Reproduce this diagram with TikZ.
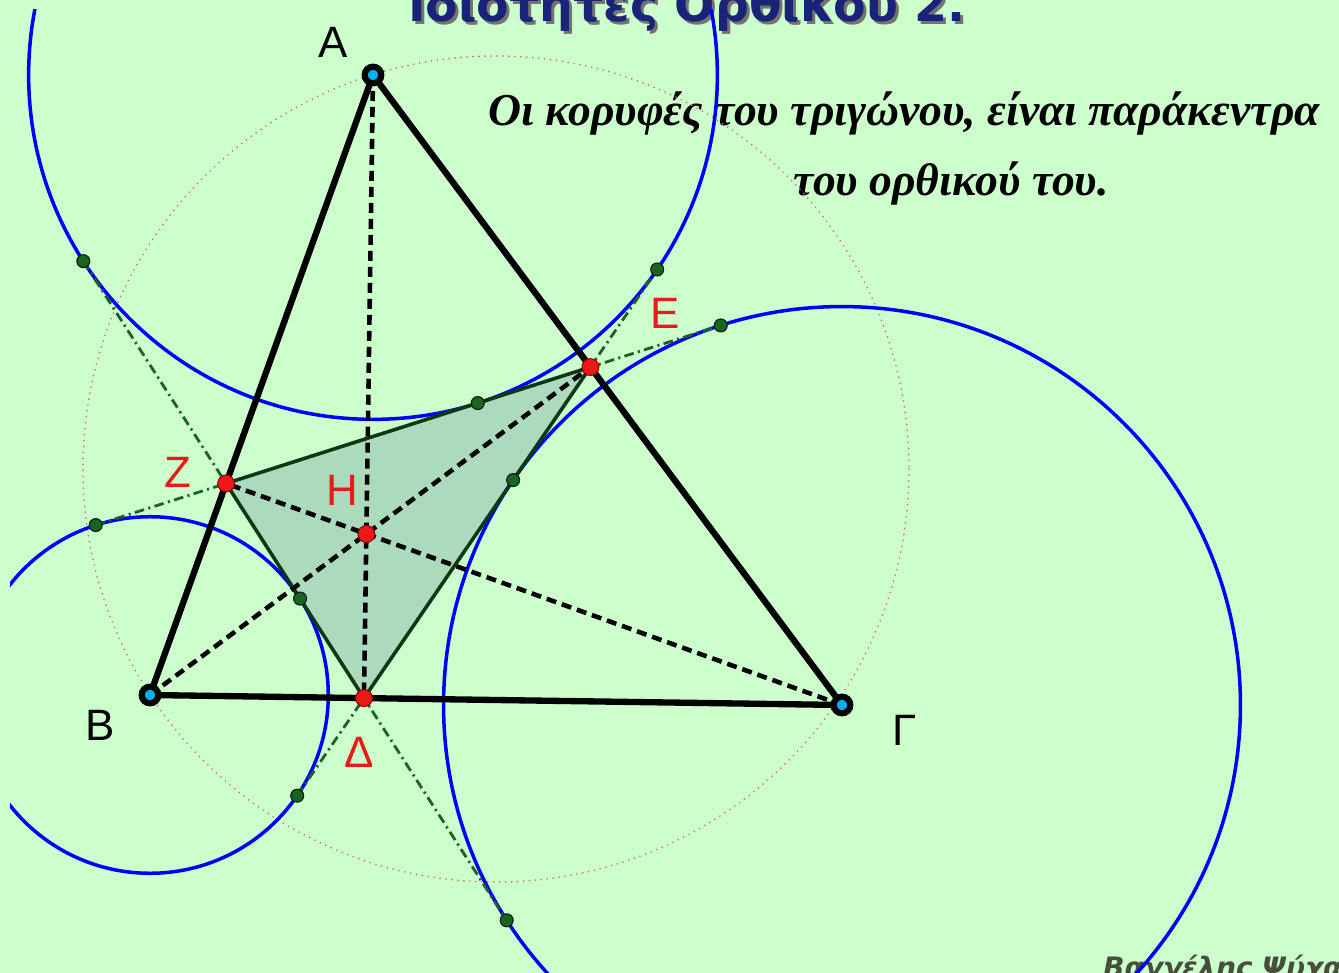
\documentclass[tikz,border=0pt]{standalone}
\usepackage{fontspec}
\setmainfont{Liberation Sans}
\newfontfamily\statefont{Liberation Serif}
\newfontfamily\titlefont{DejaVu Sans}
\usetikzlibrary{calc}

\definecolor{bggreen}{RGB}{204,255,204}
\definecolor{orthfill}{RGB}{172,218,188}
\definecolor{tangreen}{RGB}{25,100,35}
\definecolor{circdot}{RGB}{205,125,95}
\definecolor{titleblue}{RGB}{25,35,120}
\definecolor{authorgray}{RGB}{70,78,60}
\definecolor{ptred}{RGB}{235,25,25}

\begin{document}
\begin{tikzpicture}[
  x=0.02cm, y=-0.02cm,
  side/.style={line width=3.6pt, line cap=round, line join=round},
  altitude/.style={line width=2.6pt, dash pattern=on 5.7pt off 3.4pt},
  excircle/.style={draw=blue, line width=2pt},
  circum/.style={draw=circdot, line width=1.1pt, line cap=round, dash pattern=on 0pt off 3.4pt},
  extline/.style={draw=tangreen, line width=1.6pt, dash pattern=on 5.5pt off 2.5pt on 1.2pt off 2.5pt},
  orthside/.style={draw=tangreen!55!black, line width=2pt},
  vtx/.style={circle, draw=black, line width=3.5pt, fill=cyan, inner sep=0pt, minimum size=9.5pt},
  footpt/.style={circle, draw=red!60!black, line width=0.6pt, fill=ptred, inner sep=0pt, minimum size=9.6pt},
  touchpt/.style={circle, draw=black!70!tangreen, line width=0.6pt, fill=tangreen, inner sep=0pt, minimum size=7.4pt},
  ptlabel/.style={font=\fontsize{25}{27}\selectfont},
  redlabel/.style={ptlabel, text=ptred},
  titletext/.style={anchor=base, font=\titlefont\bfseries\fontsize{27}{30}\selectfont},
  statetext/.style={anchor=base, font=\statefont\bfseries\itshape\fontsize{26}{30}\selectfont}
]
\useasboundingbox (0,0) rectangle (1339,973);
\clip (0,0) rectangle (1339,973);
\fill[bggreen] (0,0) rectangle (1339,973);

% texts
\node[titletext, text=black!55] (titleshadow) at (690,25) {Ιδιότητες Ορθικού 2.};
\node[titletext, text=titleblue] (title) at (687,22) {Ιδιότητες Ορθικού 2.};
\node[statetext] (thmA) at (904,126) {Οι κορυφές του τριγώνου, είναι παράκεντρα};
\node[statetext] (thmB) at (951,196) {του ορθικού του.};
\node[anchor=base west, font=\titlefont\bfseries\itshape\fontsize{16}{18}\selectfont, text=authorgray] (author) at (1097,977) {Βαγγέλης Ψύχας};

\begin{scope}
\clip (10,10) rectangle (1339,973);

% triangle and its orthic triangle
\coordinate (A) at (373,75);
\coordinate (B) at (150,695);
\coordinate (G) at (842,705);
\coordinate (D) at ($(B)!(A)!(G)$);
\coordinate (E) at ($(A)!(B)!(G)$);
\coordinate (Z) at ($(A)!(G)!(B)$);
\coordinate (H) at (intersection of A--D and B--E);

% points of contact of the excircles
\foreach \c in {A,B,G} {
  \coordinate (t\c ze) at ($(Z)!(\c)!(E)$);
  \coordinate (t\c zd) at ($(Z)!(\c)!(D)$);
  \coordinate (t\c de) at ($(D)!(\c)!(E)$);
}

\draw[circum] (496,469) circle (413);
\fill[orthfill] (Z) -- (D) -- (E) -- cycle;

\draw[excircle] let \p1=($(A)-(tAze)$), \n1={veclen(\x1,\y1)} in (A) circle (\n1);
\draw[excircle] let \p1=($(B)-(tBzd)$), \n1={veclen(\x1,\y1)} in (B) circle (\n1);
\draw[excircle] let \p1=($(G)-(tGde)$), \n1={veclen(\x1,\y1)} in (G) circle (\n1);

\draw[extline] (tAzd) -- (tGzd);
\draw[extline] (tBze) -- (tGze);
\draw[extline] (tBde) -- (tAde);
\draw[orthside] (Z) -- (D) -- (E) -- cycle;

\draw[altitude] (A) -- (D);
\draw[altitude] (B) -- (E);
\draw[altitude] (G) -- (Z);
\draw[side] (A) -- (B) -- (G) -- cycle;

\foreach \c in {A,B,G} {
  \node[touchpt] (p\c ze) at (t\c ze) {};
  \node[touchpt] (p\c zd) at (t\c zd) {};
  \node[touchpt] (p\c de) at (t\c de) {};
}
\foreach \p in {D,E,Z,H} \node[footpt] (m\p) at (\p) {};
\foreach \p in {A,B,G} \node[vtx] (m\p) at (\p) {};
\end{scope}

\node[ptlabel] (lA) at (333,42) {A};
\node[ptlabel] (lB) at (100,725) {B};
\node[ptlabel] (lG) at (905,730) {Γ};
\node[redlabel] (lD) at (359,752) {Δ};
\node[redlabel] (lE) at (665,313) {E};
\node[redlabel] (lZ) at (178,472) {Z};
\node[redlabel] (lH) at (342,490) {H};
\end{tikzpicture}
\end{document}
